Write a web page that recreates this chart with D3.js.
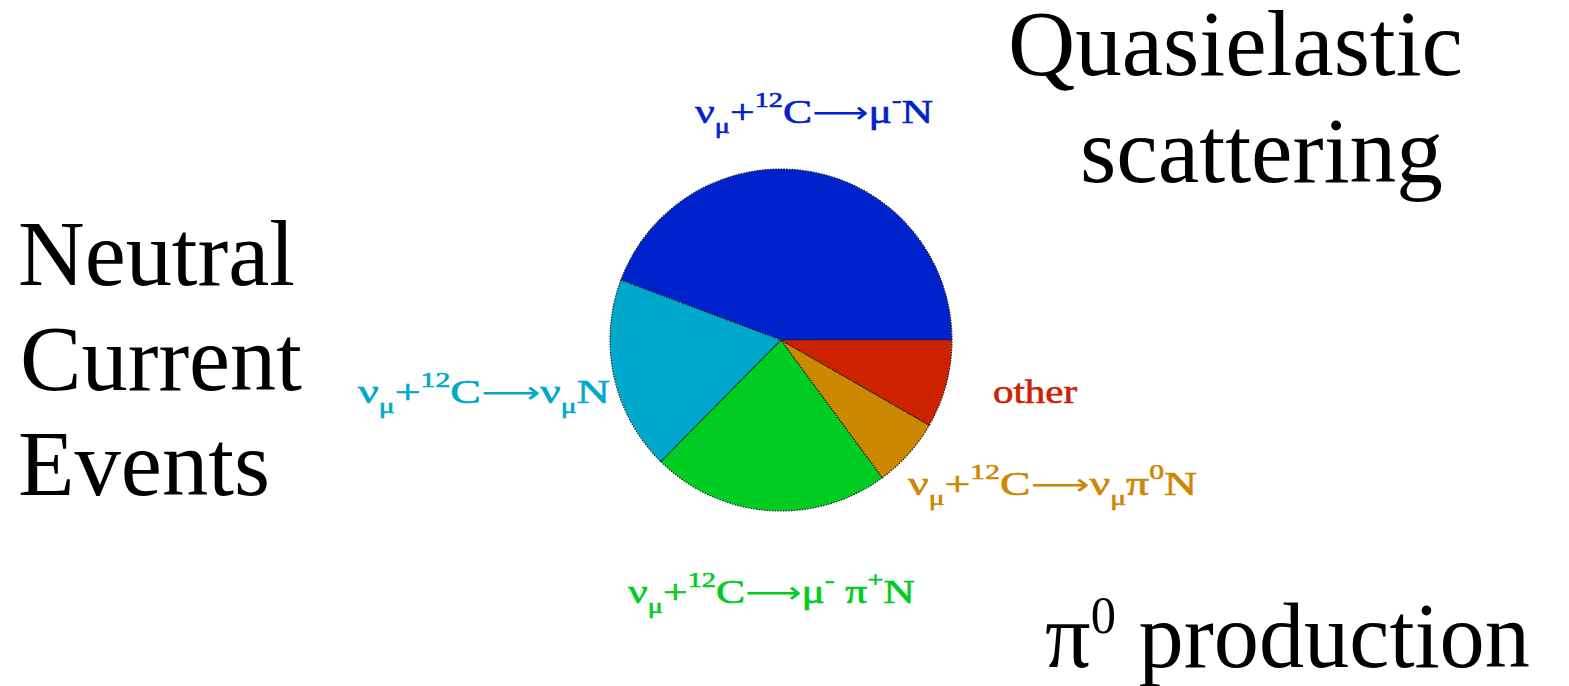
<!DOCTYPE html>
<html>
<head>
<meta charset="utf-8">
<script src="https://cdn.jsdelivr.net/npm/d3@7"></script>
<style>
  html, body { margin: 0; padding: 0; background: #fff; }
  svg { display: block; }
  text { font-family: "Liberation Serif", "Times New Roman", serif; }
</style>
</head>
<body>
<svg id="chart" width="1569" height="686"></svg>
<script>
// Event-type fractions (percent of all events)
const categories = ["CC quasielastic", "NC elastic", "CC single pion", "NC π0", "other"];
const shares = [44.3, 18.3, 22.5, 6.6, 8.3];
const colors = ["#0022cc", "#00a8cc", "#00cc22", "#cc8800", "#cc2200"];

// Reaction labels, one per slice, written as runs of normal / sub / sup / arrow text
const reactionLabels = [
  [["ν"], ["μ", "sub"], ["+"], ["12", "sup"], ["C"], ["⟶", "arrow"], ["μ"], ["-", "sup"], ["N"]],
  [["ν"], ["μ", "sub"], ["+"], ["12", "sup"], ["C"], ["⟶", "arrow"], ["ν"], ["μ", "sub"], ["N"]],
  [["ν"], ["μ", "sub"], ["+"], ["12", "sup"], ["C"], ["⟶", "arrow"], ["μ"], ["-", "sup"], [" π"], ["+", "sup"], ["N"]],
  [["ν"], ["μ", "sub"], ["+"], ["12", "sup"], ["C"], ["⟶", "arrow"], ["ν"], ["μ", "sub"], ["π"], ["0", "sup"], ["N"]],
  [["other"]]
];

// Group headings
const headings = [
  [["Quasielastic"]],
  [["scattering"]],
  [["Neutral"]],
  [["Current"]],
  [["Events"]],
  [["π"], ["0", "sup"], [" production"]]
];

// Placement: [x, baseline y, fitted width]
const labelPlace = [[695, 123, 238], [358, 403, 252], [628, 603, 287], [908, 495, 289], [993, 403, 85]];
const headingPlace = [[1008, 75, 455], [1080, 182, 363], [18, 285, 277], [20, 390, 282], [18, 495, 252], [1045, 667, 485]];

const svg = d3.select("#chart");

const cx = 781, cy = 340, r = 171;

// Slices run counter-clockwise from 3 o'clock
const pie = d3.pie()
  .sort(null)
  .startAngle(Math.PI / 2)
  .endAngle(Math.PI / 2 - 2 * Math.PI)
  .value(d => d);

const arc = d3.arc().innerRadius(0).outerRadius(r);

const g = svg.append("g").attr("transform", `translate(${cx},${cy})`);
g.selectAll("path.slice")
  .data(pie(shares))
  .join("path")
  .attr("class", "slice")
  .attr("d", arc)
  .attr("fill", (d, i) => colors[i])
  .attr("stroke", "#1c1c1c")
  .attr("stroke-width", 1.1)
  .attr("stroke-dasharray", "1.5,1.2")
  .attr("stroke-linejoin", "round");

// Writes a run-based label, then stretches it horizontally to its set width
function drawRuns(runs, place, size, fill, opts) {
  const [x, y, w] = place;
  const grp = svg.append("g").attr("transform", `translate(${x},${y})`);
  const t = grp.append("text").attr("x", 0).attr("y", 0)
    .attr("font-size", size).attr("fill", fill)
    .attr("xml:space", "preserve");
  if (opts.weight) t.attr("stroke", fill).attr("stroke-width", opts.weight);
  let shift = 0;
  runs.forEach(([str, kind]) => {
    let target = 0;
    let fs = size;
    if (kind === "sub") { target = opts.sub; fs = opts.small; }
    else if (kind === "sup") { target = opts.sup; fs = opts.small; }
    const ts = t.append("tspan")
      .attr("dy", target - shift)
      .attr("font-size", fs)
      .text(str);
    if (kind === "arrow") ts.attr("font-family", "DejaVu Sans").attr("font-size", size * 0.9).attr("stroke-width", 0);
    shift = target;
  });
  const bb = t.node().getBBox();
  if (bb.width > 0 && w) {
    const k = w / bb.width;
    grp.attr("transform", `translate(${x - bb.x * k},${y}) scale(${k},1)`);
  }
  return grp;
}

reactionLabels.forEach((runs, i) => {
  drawRuns(runs, labelPlace[i], 34, colors[i], { small: 22, sub: 10, sup: -16, weight: 0.6 });
});

headings.forEach((runs, i) => {
  drawRuns(runs, headingPlace[i], 93, "#000", { small: 52, sub: 20, sup: -34 });
});
</script>
</body>
</html>
